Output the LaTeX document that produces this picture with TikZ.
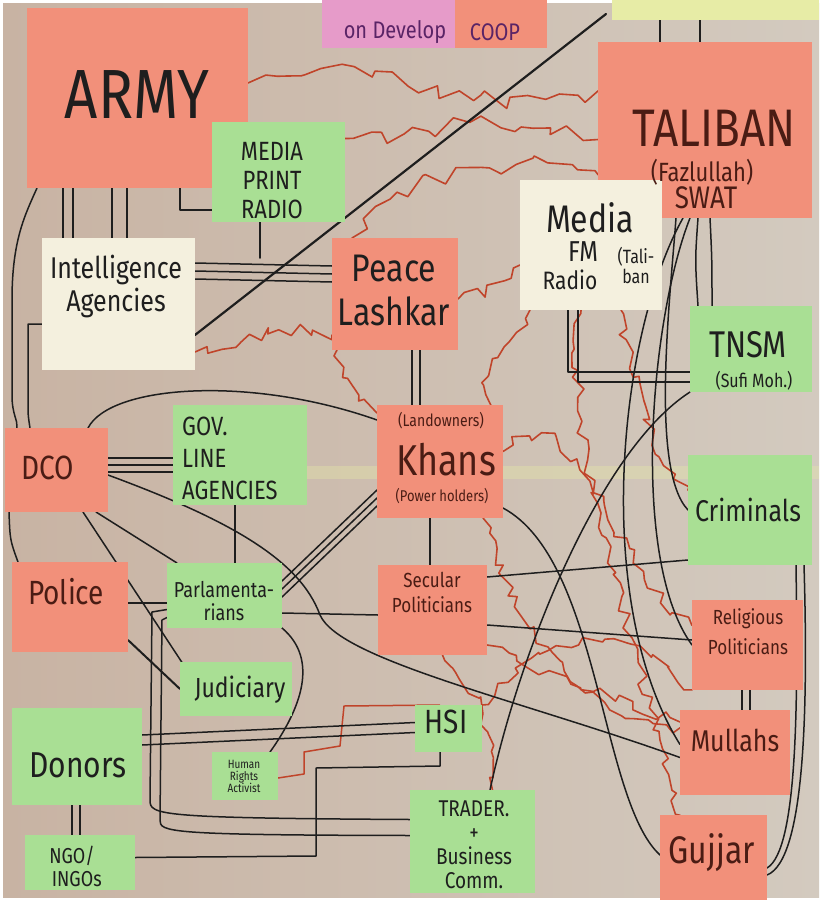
\documentclass[tikz,border=0pt]{standalone}
\usepackage{fontspec}
\setmainfont{Fira Sans}
\usepackage{graphicx}
\usetikzlibrary{calc,decorations.pathmorphing}
\definecolor{paperL}{HTML}{C8B3A3}
\definecolor{paperR}{HTML}{D3CABF}
\definecolor{salmon}{HTML}{F2907A}
\definecolor{notegreen}{HTML}{A9DF94}
\definecolor{cream}{HTML}{F4F0DE}
\definecolor{pinknote}{HTML}{E69BC9}
\definecolor{yelnote}{HTML}{E7ECA6}
\definecolor{ink}{HTML}{1E1E1E}
\definecolor{brink}{HTML}{4A1C14}
\definecolor{purpleink}{HTML}{5A2466}
\definecolor{redink}{HTML}{C0442A}
\newcommand\fsz[2]{\fontsize{#1}{#2}\selectfont}
\newcommand\hw[1]{\scalebox{1}[1.2]{#1}}
\pgfdeclarelayer{bg}
\pgfdeclarelayer{lines}
\pgfsetlayers{bg,lines,main}
\pgfmathsetseed{11}
\begin{document}
\begin{tikzpicture}[x=1pt,y=-1pt,
 note/.style={draw=none, anchor=north west, inner sep=0pt, outer sep=0pt},
 sal/.style={note, fill=salmon},
 grn/.style={note, fill=notegreen},
 crm/.style={note, fill=cream},
 txt/.style={inner sep=0pt, align=center, text=ink},
 btxt/.style={txt, text=brink},
 ln/.style={draw=ink, line width=1.5pt, line cap=round, line join=round},
 rl/.style={draw=redink, line width=1.6pt, line cap=round, line join=round,
   decorate, decoration={random steps, segment length=9pt, amplitude=6pt}},
 rlbig/.style={rl, decoration={random steps, segment length=13pt, amplitude=10pt}}
]
\useasboundingbox (0,0) rectangle (822,900);
\begin{pgfonlayer}{bg}
\fill[white] (0,0) rectangle (822,900);
\shade[left color=paperL, right color=paperR] (3,3) rectangle (819,897);
\fill[yelnote, opacity=0.35] (300,466) rectangle (819,479);
\end{pgfonlayer}

% ---------- notes ----------
\node[note, fill=pinknote, minimum width=140pt, minimum height=55pt] (devnote) at (322,-7) {};
\node[sal, minimum width=92pt, minimum height=52pt] (coopnote) at (455,-4) {};
\node[note, fill=yelnote, minimum width=207pt, minimum height=26pt] (yelnote) at (612,-6) {};
\node[sal, minimum width=221pt, minimum height=180pt] (army) at (27,8) {};
\node[grn, minimum width=133pt, minimum height=100pt] (media) at (212,122) {};
\node[crm, minimum width=153pt, minimum height=132pt] (intel) at (42,238) {};
\node[sal, minimum width=126pt, minimum height=112pt] (peace) at (332,238) {};
\node[sal, minimum width=214pt, minimum height=176pt] (taliban) at (598,42) {};
\node[crm, minimum width=142pt, minimum height=130pt] (mediafm) at (520,180) {};
\node[grn, minimum width=122pt, minimum height=86pt] (tnsm) at (690,306) {};
\node[sal, minimum width=103pt, minimum height=84pt] (dco) at (5,428) {};
\node[grn, minimum width=134pt, minimum height=100pt] (gov) at (173,405) {};
\node[sal, minimum width=126pt, minimum height=113pt] (khans) at (377,405) {};
\node[grn, minimum width=124pt, minimum height=110pt] (crim) at (688,455) {};
\node[sal, minimum width=116pt, minimum height=90pt] (police) at (12,562) {};
\node[grn, minimum width=115pt, minimum height=65pt] (parl) at (167,563) {};
\node[sal, minimum width=109pt, minimum height=90pt] (secular) at (378,565) {};
\node[sal, minimum width=111pt, minimum height=90pt] (relig) at (692,600) {};
\node[grn, minimum width=112pt, minimum height=54pt] (judic) at (180,662) {};
\node[grn, minimum width=130pt, minimum height=97pt] (donors) at (12,708) {};
\node[grn, minimum width=66pt, minimum height=48pt] (hr) at (212,752) {};
\node[grn, minimum width=67pt, minimum height=47pt] (hsi) at (415,705) {};
\node[sal, minimum width=110pt, minimum height=85pt] (mullahs) at (680,710) {};
\node[grn, minimum width=110pt, minimum height=55pt] (ngo) at (25,835) {};
\node[grn, minimum width=125pt, minimum height=103pt] (trader) at (410,790) {};
\node[sal, minimum width=107pt, minimum height=90pt] (gujjar) at (660,815) {};
\coordinate (topend) at (606,14);

% ---------- connectors ----------
\begin{pgfonlayer}{lines}
% red
\draw[rlbig] ($(army.east)+(0,-15)$) .. controls (350,40) and (480,130) .. ($(taliban.west)+(0,-40)$);
\draw[rlbig] ($(army.east)+(0,35)$) .. controls (360,170) and (470,90) .. ($(taliban.west)+(0,10)$);
\draw[rl] ($(intel.south east)+(0,-18)$) .. controls (250,340) and (290,320) .. ($(peace.south west)+(0,-15)$);
\draw[rlbig] ($(peace.north west)+(20,0)$) .. controls (380,190) and (500,140) .. ($(taliban.west)+(0,45)$);
\draw[rl] ($(peace.east)+(0,5)$) .. controls (490,290) .. ($(mediafm.west)+(0,20)$);
\draw[rl] ($(mediafm.south)+(30,0)$) .. controls (630,380) and (650,450) .. ($(crim.west)+(0,-20)$);
\draw[rl] ($(khans.east)+(0,-10)$) .. controls (580,380) and (600,560) .. ($(relig.west)+(0,-20)$);
\draw[rl] ($(khans.south east)+(-20,0)$) .. controls (510,600) and (560,720) .. ($(mullahs.west)+(0,-25)$);
\draw[rl] ($(peace.south west)+(5,0)$) .. controls (345,380) .. ($(khans.north west)+(0,8)$);
\draw[rl] ($(mediafm.south west)+(10,0)$) .. controls (500,360) and (470,380) .. ($(khans.north east)+(0,10)$);
\draw[rl] ($(secular.south east)+(0,-10)$) .. controls (560,680) and (620,700) .. ($(mullahs.north west)+(0,12)$);
\draw[rl] ($(trader.north)+(20,0)$) .. controls (500,720) and (470,690) .. ($(secular.south)+(10,0)$);
\draw[rl] ($(mediafm.south)+(-10,0)$) .. controls (560,450) and (640,650) .. ($(gujjar.north west)+(20,0)$);
\draw[rl] (hsi.north east) .. controls (540,650) and (600,600) .. (relig.south west);
\draw[redink, line width=1.5pt, line join=round] ($(hr.east)+(0,2)$) -- (304,774) -- (304,752) -- (340,746) -- (344,706) -- ($(hsi.north west)+(25,0)$);

% black
\draw[ln] ($(army.south west)+(36,0)$) -- ($(intel.north west)+(21,0)$);
\draw[ln] ($(army.south west)+(46,0)$) -- ($(intel.north west)+(31,0)$);
\draw[ln] ($(army.south west)+(85,0)$) -- ($(intel.north west)+(70,0)$);
\draw[ln] ($(army.south west)+(100,0)$) -- ($(intel.north west)+(85,0)$);
\draw[ln] ($(army.south west)+(153,0)$) |- ($(media.south west)+(0,-12)$);
\draw[ln] ($(army.south west)+(10,0)$) .. controls (25,215) and (12,240) .. (12,300) -- (12,395) .. controls (12,415) and (18,420) .. ($(dco.north west)+(12,0)$);
\draw[ln] ($(intel.west)+(0,20)$) -- (28,324) -- (28,400) .. controls (28,415) .. ($(dco.north west)+(25,0)$);
\foreach \dd in {25,33,41} \draw[ln] ($(intel.north east)+(0,\dd)$) -- ($(peace.north west)+(0,\dd+3)$);
\draw[ln, line width=2.2pt] ($(intel.north east)+(0,97)$) -- (topend);
\draw[ln] ($(media.south west)+(48,0)$) -- ($(intel.north east)+(65,20)$);
\draw[ln] ($(peace.south west)+(80,0)$) -- ($(khans.north west)+(35,0)$);
\draw[ln] ($(peace.south west)+(88,0)$) -- ($(khans.north west)+(43,0)$);
\draw[ln] ($(dco.north east)+(-20,0)$) .. controls (110,385) and (250,375) .. ($(khans.north west)+(0,15)$);
\foreach \dd in {30,37,44} \draw[ln] ($(dco.north east)+(0,\dd)$) -- ($(gov.north west)+(0,\dd+23)$);
\draw[ln] ($(dco.south east)+(-12,0)$) -- ($(parl.north west)+(10,0)$);
\draw[ln] ($(dco.south east)+(-25,0)$) -- ($(judic.north west)+(5,5)$);
\draw[ln] ($(dco.east)+(0,5)$) .. controls (230,520) and (300,560) .. (320,615) .. controls (340,660) and (520,700) .. ($(mullahs.west)+(0,5)$);
\draw[ln] ($(dco.south west)+(4,0)$) .. controls (10,540) .. ($(police.north west)+(6,0)$);
\draw[ln] ($(gov.south west)+(62,0)$) -- ($(parl.north west)+(68,0)$);
\foreach \dd in {0,8,16} \draw[ln] ($(parl.north east)+(0,18+\dd)$) -- ($(khans.south west)+(0,-28+\dd)$);
\draw[ln] ($(police.north east)+(0,41)$) -- ($(parl.north west)+(0,40)$);
\draw[ln, line width=2pt] ($(police.south east)+(0,-12)$) -- (judic.west);
\draw[ln] ($(khans.south west)+(53,0)$) -- ($(secular.north west)+(52,0)$);
\draw[ln] ($(parl.north east)+(0,50)$) -- ($(secular.north west)+(0,50)$);
\draw[ln] ($(donors.north east)+(0,27)$) -- ($(hsi.west)+(0,-6)$);
\draw[ln] ($(donors.north east)+(0,37)$) -- ($(hsi.west)+(0,4)$);
\draw[ln] ($(parl.west)+(0,14)$) -- (152,612) -- (150,800) .. controls (150,815) and (155,818) .. ($(trader.west)+(0,-22)$);
\draw[ln] ($(parl.west)+(0,22)$) -- (162,620) -- (160,820) .. controls (160,832) and (165,835) .. ($(trader.west)+(0,-6)$);
\draw[ln] ($(hr.north east)+(-8,0)$) .. controls (300,710) and (320,660) .. (parl.south east);
\draw[ln] ($(hsi.south west)+(25,0)$) -- ($(hsi.south west)+(25,14)$) -- (316,768) -- (316,856) -- ($(ngo.east)+(0,-5)$);
\draw[ln] ($(donors.south west)+(60,0)$) -- ($(ngo.north west)+(47,0)$);
\draw[ln] ($(donors.south west)+(68,0)$) -- ($(ngo.north west)+(55,0)$);
\draw[ln] ($(taliban.south west)+(100,0)$) .. controls (695,260) .. ($(tnsm.north west)+(8,0)$);
\draw[ln] ($(taliban.south west)+(112,0)$) .. controls (712,260) .. ($(tnsm.north west)+(22,0)$);
\draw[ln] ($(mediafm.south west)+(48,0)$) |- ($(tnsm.west)+(0,23)$);
\draw[ln] ($(mediafm.south west)+(58,0)$) |- ($(tnsm.west)+(0,33)$);
\draw[ln] ($(taliban.south west)+(85,0)$) .. controls (620,330) and (590,600) .. ($(mullahs.west)+(0,-8)$);
\draw[ln] ($(taliban.south west)+(92,0)$) .. controls (650,320) and (630,560) .. (relig.west);
\draw[ln] ($(taliban.south west)+(78,0)$) .. controls (670,300) and (650,470) .. (crim.west);
\draw[ln] ($(crim.south east)+(-8,0)$) .. controls (808,700) and (806,860) .. ($(gujjar.east)+(0,15)$);
\draw[ln] ($(crim.south east)+(-16,0)$) .. controls (798,700) and (798,850) .. ($(gujjar.east)+(0,8)$);
\draw[ln] ($(relig.south west)+(50,0)$) -- ($(mullahs.north west)+(62,0)$);
\draw[ln] ($(relig.south west)+(58,0)$) -- ($(mullahs.north west)+(70,0)$);
\draw[ln] ($(khans.south east)+(0,-10)$) .. controls (600,560) and (600,800) .. ($(gujjar.west)+(0,-5)$);
\draw[ln] ($(trader.north east)+(-45,0)$) .. controls (520,650) and (600,450) .. (tnsm.south west);
\draw[ln] ($(secular.north east)+(0,12)$) -- ($(crim.south west)+(0,-5)$);
\draw[ln] ($(secular.east)+(0,15)$) -- ($(relig.west)+(0,-5)$);
\draw[ln] ($(yelnote.south west)+(48,0)$) -- ($(taliban.north west)+(62,0)$);
\draw[ln] ($(yelnote.south west)+(88,0)$) -- ($(taliban.north west)+(102,0)$);
\end{pgfonlayer}

% ---------- texts ----------
\node[txt, text=purpleink, font=\fsz{20}{20}] (tdev) at (395,32) {\hw{on Develop}};
\node[txt, text=purpleink, font=\fsz{20}{20}] (tcoop) at (495,32) {\hw{COOP}};
\node[txt, font=\fsz{58}{58}] (tarmy) at (137,95) {\hw{ARMY}};
\node[txt, font=\fsz{22}{29}] (tmedia) at (272,181) {\hw{MEDIA}\\\hw{PRINT}\\\hw{RADIO}};
\node[txt, font=\fsz{25}{33}] (tintel) at (116,286) {\hw{Intelligence}\\\hw{Agencies}};
\node[txt, font=\fsz{32}{44}] (tpeace) at (394,290) {\hw{Peace}\\\hw{Lashkar}};
\node[btxt, font=\fsz{44}{44}] (ttal1) at (714,128) {\hw{TALIBAN}};
\node[btxt, font=\fsz{22}{22}] (ttal2) at (702,172) {\hw{(Fazlullah)}};
\node[btxt, font=\fsz{26}{26}] (ttal3) at (706,198) {\hw{SWAT}};
\node[txt, font=\fsz{32}{32}] (tfm1) at (590,218) {\hw{Media}};
\node[txt, font=\fsz{24}{24}] (tfm2) at (583,252) {\hw{FM}};
\node[txt, font=\fsz{21}{21}] (tfm3) at (570,280) {\hw{Radio}};
\node[txt, font=\fsz{16}{20}] (tfm4) at (636,265) {\hw{(Tali-}\\\hw{ban}};
\node[txt, font=\fsz{31}{31}] (ttnsm1) at (748,345) {\hw{TNSM}};
\node[txt, font=\fsz{16}{16}] (ttnsm2) at (754,381) {\hw{(Sufi Moh.)}};
\node[btxt, font=\fsz{28}{28}] (tdco) at (48,468) {\hw{DCO}};
\node[txt, align=left, anchor=west, font=\fsz{22}{32}] (tgov) at (182,458) {\hw{GOV.}\\\hw{LINE}\\\hw{AGENCIES}};
\node[btxt, font=\fsz{14}{14}] (tkh1) at (441,421) {\hw{(Landowners)}};
\node[btxt, font=\fsz{36}{36}] (tkh2) at (446,460) {\hw{Khans}};
\node[btxt, font=\fsz{13}{13}] (tkh3) at (442,496) {\hw{(Power holders)}};
\node[txt, font=\fsz{25}{25}] (tcrim) at (748,510) {\hw{Criminals}};
\node[btxt, font=\fsz{28}{28}] (tpolice) at (66,592) {\hw{Police}};
\node[txt, font=\fsz{18}{23}] (tparl) at (224,601) {\hw{Parlamenta-}\\\hw{rians}};
\node[btxt, font=\fsz{17}{25}] (tsec) at (432,592) {\hw{Secular}\\\hw{Politicians}};
\node[btxt, font=\fsz{17}{30}] (trel) at (748,632) {\hw{Religious}\\\hw{Politicians}};
\node[txt, font=\fsz{23}{23}] (tjud) at (240,690) {\hw{Judiciary}};
\node[txt, font=\fsz{30}{30}] (tdon) at (78,765) {\hw{Donors}};
\node[txt, font=\fsz{10}{12}] (thr) at (244,776) {\hw{Human}\\\hw{Rights}\\\hw{Activist}};
\node[txt, font=\fsz{28}{28}] (thsi) at (446,722) {\hw{HSI}};
\node[btxt, font=\fsz{25}{25}] (tmul) at (735,740) {\hw{Mullahs}};
\node[txt, font=\fsz{18}{23}] (tngo) at (72,866) {\hw{NGO/}\\\hw{\ \ INGOs}};
\node[txt, font=\fsz{19}{24}] (ttrader) at (474,845) {\hw{TRADER.}\\\hw{+}\\\hw{Business}\\\hw{Comm.}};
\node[btxt, font=\fsz{32}{32}] (tguj) at (712,853) {\hw{Gujjar}};
\end{tikzpicture}
\end{document}
